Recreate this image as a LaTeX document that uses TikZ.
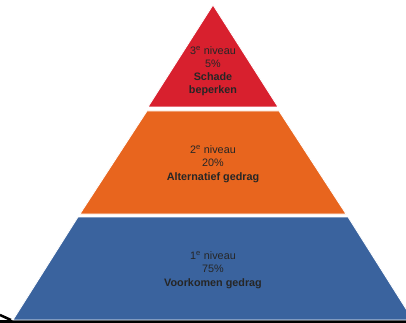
\documentclass[tikz,border=0pt]{standalone}
\usepackage{fontspec}
\setmainfont{Liberation Sans}
\usetikzlibrary{positioning}
\definecolor{levelred}{HTML}{D8202E}
\definecolor{levelorange}{HTML}{E8651E}
\definecolor{levelblue}{HTML}{3A639E}
\definecolor{baseline}{HTML}{C9D1DD}

\begin{document}
\begin{tikzpicture}[x=1pt, y=-1pt,
  level/.style={draw=white, line width=0.8pt},
  label/.style={align=center, font=\fontsize{10.8}{13.2}\selectfont, text=black!85}]
  \useasboundingbox (0,0) rectangle (406,323);
  \clip (0,0) rectangle (406,323);
  % Background
  \fill[white] (0,0) rectangle (406,323);
  \fill[baseline] (0,320) rectangle (406,323);
  % Levels of the pyramid
  \filldraw[level, fill=levelred] (213,5) -- (278,107) -- (148,107) -- cycle;
  \filldraw[level, fill=levelorange] (147,111) -- (279,111) -- (346,214) -- (80,214) -- cycle;
  \filldraw[level, fill=levelblue] (78,217) -- (348,217) -- (413,320) -- (13,320) -- cycle;
  % Corner mark
  \draw[black, line width=2.5pt] (0,315) -- (11,320);
  % Labels
  \node[label] (top) at (213,71) {3\textsuperscript{e} niveau\\5\%\\\textbf{Schade}\\\textbf{beperken}};
  \node[label] (mid) at (213,164) {2\textsuperscript{e} niveau\\20\%\\\textbf{Alternatief gedrag}};
  \node[label] (low) at (213,270) {1\textsuperscript{e} niveau\\75\%\\\textbf{Voorkomen gedrag}};
\end{tikzpicture}
\end{document}
